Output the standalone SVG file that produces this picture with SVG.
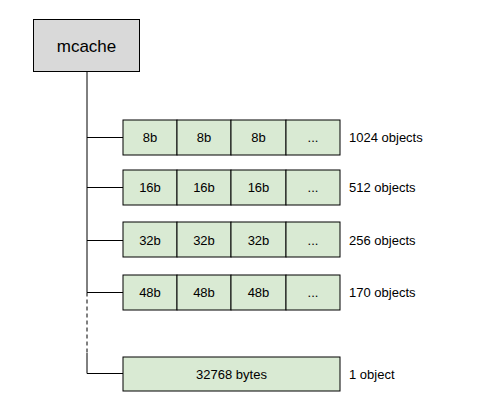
<svg xmlns="http://www.w3.org/2000/svg" width="502" height="409" viewBox="0 0 502 409">
<style>
text{font-family:"Liberation Sans",Arial,sans-serif;fill:#000}
.cell{fill:#d9ead3;stroke:#000;stroke-width:1}
.lbl{font-size:13px;text-anchor:middle;dominant-baseline:central}
.side{font-size:13px;dominant-baseline:central}
.ln{stroke:#000;stroke-width:1;fill:none}
</style>
<rect width="502" height="409" fill="#fff"/>
<g id="connectors">
<path class="ln" d="M87 71V292.5M87 137.5H123M87 187.5H123M87 240.5H123M87 292.5H123"/>
<path class="ln" d="M87 292.5V353" stroke-dasharray="4,3"/>
<path class="ln" d="M87 353V373.5H123"/>
</g>
<g id="mcache">
<rect x="33.5" y="19.5" width="106" height="52" fill="#d9d9d9" stroke="#000"/>
<text x="86.5" y="46" font-size="17" text-anchor="middle" dominant-baseline="central">mcache</text>
</g>
<g id="row8">
<rect class="cell" x="123" y="120" width="54" height="35"/><rect class="cell" x="177" y="120" width="54" height="35"/><rect class="cell" x="231" y="120" width="55" height="35"/><rect class="cell" x="286" y="120" width="54" height="35"/>
<text class="lbl" x="150" y="137.5">8b</text><text class="lbl" x="204" y="137.5">8b</text><text class="lbl" x="258.5" y="137.5">8b</text><text class="lbl" x="313" y="137.5" fill="#444">...</text>
<text class="side" x="349" y="137.5">1024 objects</text>
</g>
<g id="row16">
<rect class="cell" x="123" y="170" width="54" height="35"/><rect class="cell" x="177" y="170" width="54" height="35"/><rect class="cell" x="231" y="170" width="55" height="35"/><rect class="cell" x="286" y="170" width="54" height="35"/>
<text class="lbl" x="150" y="187.5">16b</text><text class="lbl" x="204" y="187.5">16b</text><text class="lbl" x="258.5" y="187.5">16b</text><text class="lbl" x="313" y="187.5" fill="#444">...</text>
<text class="side" x="349" y="187.5">512 objects</text>
</g>
<g id="row32">
<rect class="cell" x="123" y="222" width="54" height="35"/><rect class="cell" x="177" y="222" width="54" height="35"/><rect class="cell" x="231" y="222" width="55" height="35"/><rect class="cell" x="286" y="222" width="54" height="35"/>
<text class="lbl" x="150" y="240">32b</text><text class="lbl" x="204" y="240">32b</text><text class="lbl" x="258.5" y="240">32b</text><text class="lbl" x="313" y="240" fill="#444">...</text>
<text class="side" x="349" y="240">256 objects</text>
</g>
<g id="row48">
<rect class="cell" x="123" y="275" width="54" height="35"/><rect class="cell" x="177" y="275" width="54" height="35"/><rect class="cell" x="231" y="275" width="55" height="35"/><rect class="cell" x="286" y="275" width="54" height="35"/>
<text class="lbl" x="150" y="292.5">48b</text><text class="lbl" x="204" y="292.5">48b</text><text class="lbl" x="258.5" y="292.5">48b</text><text class="lbl" x="313" y="292.5" fill="#444">...</text>
<text class="side" x="349" y="292.5">170 objects</text>
</g>
<g id="row32768">
<rect class="cell" x="123" y="357" width="217" height="34"/>
<text class="lbl" x="231.5" y="374">32768 bytes</text>
<text class="side" x="349" y="374">1 object</text>
</g>
</svg>
